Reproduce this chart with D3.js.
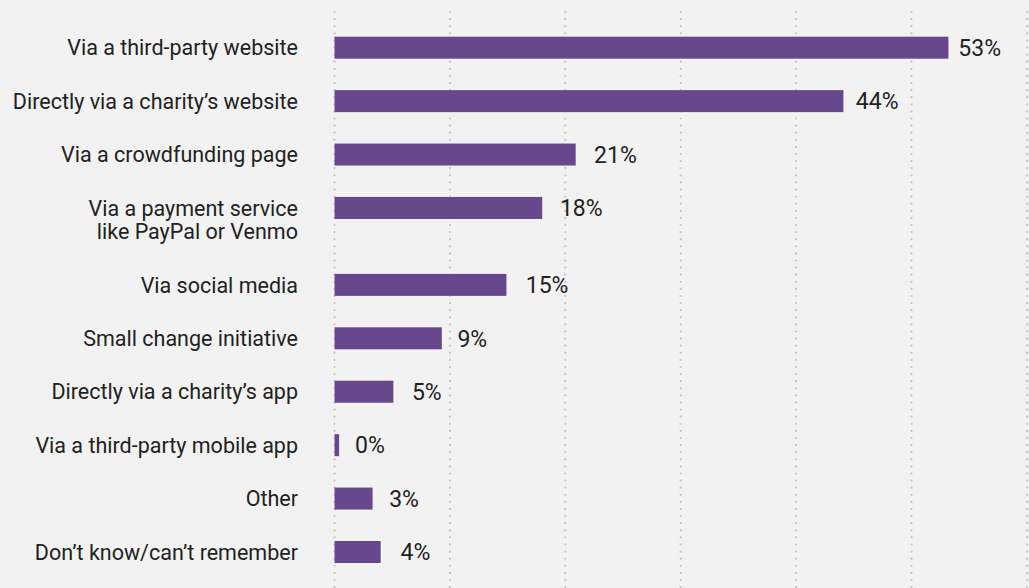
<!DOCTYPE html>
<html>
<head>
<meta charset="utf-8">
<script src="https://cdn.jsdelivr.net/npm/d3@7"></script>
<style>
  html, body { margin: 0; padding: 0; background: #f2f2f2; }
  svg { display: block; }
  text { font-family: Roboto, "Liberation Sans", sans-serif; fill: #222222; }
</style>
</head>
<body>
<svg id="chart" width="1029" height="588"></svg>
<script>
// ---- data ----
const categories = [
  ["Via a third-party website"],
  ["Directly via a charity\u2019s website"],
  ["Via a crowdfunding page"],
  ["Via a payment service", "like PayPal or Venmo"],
  ["Via social media"],
  ["Small change initiative"],
  ["Directly via a charity\u2019s app"],
  ["Via a third-party mobile app"],
  ["Other"],
  ["Don\u2019t know/can\u2019t remember"]
];
const values = [53.2, 44.1, 20.9, 18.0, 14.9, 9.3, 5.1, 0.4, 3.3, 4.0];
const valueLabels = ["53%", "44%", "21%", "18%", "15%", "9%", "5%", "0%", "3%", "4%"];
const gridTicks = [0, 10, 20, 30, 40, 50, 60];

// ---- layout ----
const W = 1029, H = 588;
const svg = d3.select("#chart");
svg.append("rect").attr("width", W).attr("height", H).attr("fill", "#f2f2f2");

const x = d3.scaleLinear().domain([0, 60]).range([334.5, 1026.9]);
const labelX = d3.scaleLinear().domain([0, 60]).range([355, 1038]);

// row offsets: extra space for each additional label line
const extraPerLine = 0.44;
const offsets = [];
let acc = 0;
categories.forEach((c, i) => { offsets.push(acc); acc += 1 + (c.length - 1) * extraPerLine; });
const y = d3.scaleLinear().domain([0, offsets[offsets.length - 1]]).range([47.7, 552]);
const barH = 22;
const lineH = 23.5;

// gridlines
svg.append("g").selectAll("line").data(gridTicks).join("line")
  .attr("x1", d => x(d)).attr("x2", d => x(d))
  .attr("y1", 12).attr("y2", H + 4)
  .attr("stroke", "#c4c4c4").attr("stroke-width", 2.2)
  .attr("stroke-linecap", "round")
  .attr("stroke-dasharray", "0,7.1");

// bars
svg.append("g").selectAll("rect").data(values).join("rect")
  .attr("x", x(0))
  .attr("y", (d, i) => y(offsets[i]) - barH / 2)
  .attr("width", d => x(d) - x(0))
  .attr("height", barH)
  .attr("fill", "#68488c");

// category labels
const lab = svg.append("g").selectAll("text").data(categories).join("text")
  .attr("x", 298)
  .attr("y", (d, i) => y(offsets[i]))
  .attr("text-anchor", "end")
  .attr("font-size", 21.5)
  .attr("font-weight", 400);
lab.selectAll("tspan").data(d => d).join("tspan")
  .attr("x", 298)
  .attr("dy", (d, j) => j === 0 ? "0.36em" : lineH)
  .text(d => d);

// value labels
svg.append("g").selectAll("text").data(values).join("text")
  .attr("x", (d, i) => labelX(parseFloat(valueLabels[i])))
  .attr("y", (d, i) => y(offsets[i]))
  .attr("dy", "0.36em")
  .attr("font-size", 23)
  .attr("font-weight", 400)
  .text((d, i) => valueLabels[i]);
</script>
</body>
</html>
